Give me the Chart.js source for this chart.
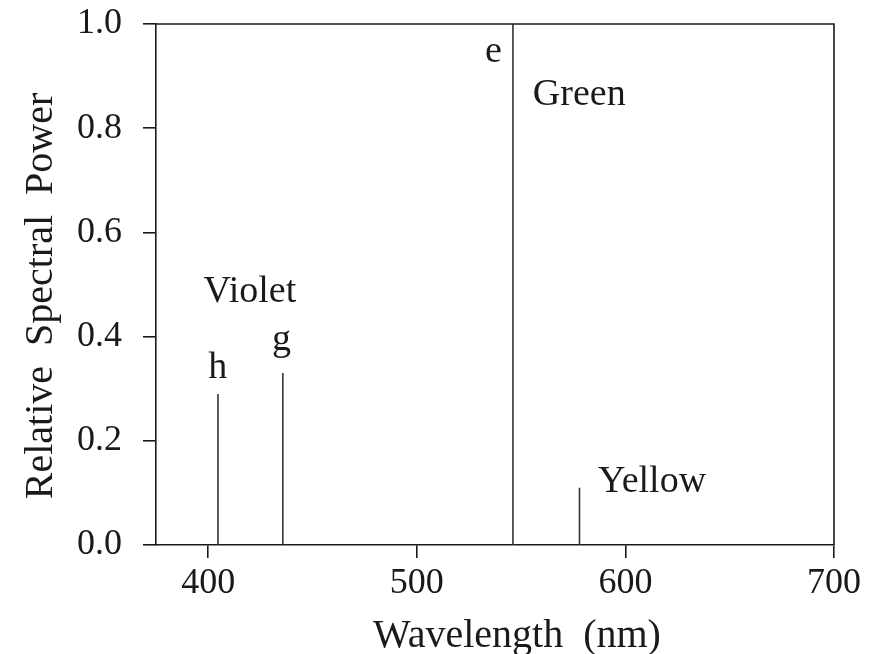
<!DOCTYPE html>
<html lang="en">
<head>
  <meta charset="UTF-8">
  <title>Relative Spectral Power</title>
  <style>
    * { margin: 0; padding: 0; box-sizing: border-box; }
    body { background: #fff; }
    #wrap { width: 881px; height: 654px; }
  </style>
  <script src="https://cdn.jsdelivr.net/npm/chart.js"></script>
</head>
<body>
  <div id="wrap"><canvas id="spectrum"></canvas></div>

  <script>
    // mercury lines: wavelength (nm) and relative power
    const lineNames = ["h", "g", "e", "yellow"];
    const wavelengths = [404.7, 435.8, 546.1, 578.0];
    const relPower = [0.29, 0.33, 1.0, 0.11];

    const xTicks = [400, 500, 600, 700];
    const yTicks = [0.0, 0.2, 0.4, 0.6, 0.8, 1.0];

    const noteTexts = ["h", "g", "Violet", "e", "Green", "Yellow"];
    // anchor (center, baseline) of each note in data units
    const noteAt = [[404.6, 0.321], [435.2, 0.374], [420.0, 0.467], [536.7, 0.928], [577.9, 0.845], [612.8, 0.102]];

    const FONT = "'Liberation Serif', 'Times New Roman', serif";
    const INK = "#1a1a1a";

    const datasets = wavelengths.map((w, i) => ({
      label: lineNames[i],
      data: [{ x: w, y: 0 }, { x: w, y: relPower[i] }],
      showLine: true,
      borderColor: "#333",
      borderWidth: 1.6,
      pointRadius: 0
    }));

    const notesPlugin = {
      id: "notes",
      afterDraw(chart) {
        const { ctx, chartArea: a, scales: { x, y } } = chart;
        ctx.save();
        // frame top + right
        ctx.strokeStyle = INK;
        ctx.lineWidth = 1.6;
        ctx.beginPath();
        ctx.moveTo(a.left, a.top);
        ctx.lineTo(a.right, a.top);
        ctx.lineTo(a.right, a.bottom);
        ctx.stroke();

        ctx.fillStyle = INK;
        ctx.font = "38px " + FONT;
        ctx.textAlign = "center";
        ctx.textBaseline = "alphabetic";
        noteTexts.forEach((t, i) => {
          ctx.fillText(t, x.getPixelForValue(noteAt[i][0]), y.getPixelForValue(noteAt[i][1]));
        });

        // axis titles
        ctx.font = "40px " + FONT;
        ctx.fillText("Wavelength  (nm)", 517, 647);
        ctx.translate(52, 296);
        ctx.rotate(-Math.PI / 2);
        ctx.fillText("Relative  Spectral  Power", 0, 0);
        ctx.restore();
      }
    };

    new Chart(document.getElementById("spectrum"), {
      type: "scatter",
      data: { datasets },
      options: {
        responsive: true,
        maintainAspectRatio: false,
        animation: false,
        layout: { padding: { left: 0, right: 47, top: 24, bottom: 0 } },
        plugins: { legend: { display: false }, tooltip: { enabled: false } },
        scales: {
          x: {
            type: "linear",
            min: 375,
            max: 700,
            afterBuildTicks: s => { s.ticks = xTicks.map(v => ({ value: v })); },
            afterFit: s => { s.height = 109; },
            grid: { drawOnChartArea: false, drawTicks: true, tickLength: 13, color: INK, lineWidth: 1.6 },
            border: { color: INK, width: 1.6 },
            ticks: { font: { family: FONT, size: 36 }, color: INK, padding: 4, maxRotation: 0 }
          },
          y: {
            min: 0,
            max: 1,
            afterBuildTicks: s => { s.ticks = yTicks.map(v => ({ value: v })); },
            afterFit: s => { s.width = 156; s.paddingTop = 0; s.paddingBottom = 0; },
            grid: { drawOnChartArea: false, drawTicks: true, tickLength: 13, color: INK, lineWidth: 1.6 },
            border: { color: INK, width: 1.6 },
            ticks: { font: { family: FONT, size: 36 }, color: INK, padding: 21, callback: v => v.toFixed(1) }
          }
        }
      },
      plugins: [notesPlugin]
    });
  </script>
</body>
</html>
